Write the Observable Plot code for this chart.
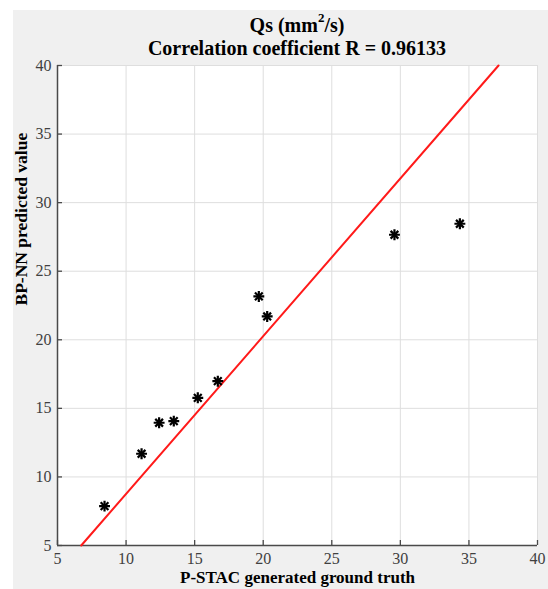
<!DOCTYPE html>
<html><head><meta charset="utf-8">
<script src="https://cdn.jsdelivr.net/npm/d3@7"></script>
<script src="https://cdn.jsdelivr.net/npm/@observablehq/plot@0.6"></script>
<style>
body{margin:0;background:#fff;}
#wrap{position:relative;width:548px;height:589px;overflow:hidden;font-family:"Liberation Serif",serif;}
#bg{position:absolute;left:13px;top:10px;width:535px;height:579px;background:#f0f0f0;}
#chart{position:absolute;left:0;top:0;}
.title{position:absolute;left:0;width:594px;text-align:center;font-weight:bold;font-size:20px;line-height:23px;color:#000;white-space:nowrap;}
.title sup{font-size:13px;line-height:0;position:relative;top:-2px;}
</style></head>
<body><div id="wrap"><div id="bg"></div><div id="chart"></div>
<div class="title" style="top:14px">Qs (mm<sup>2</sup>/s)</div>
<div class="title" style="top:37px">Correlation coefficient R = 0.96133</div>
</div>
<script>
const truthX = [8.43, 11.13, 12.41, 13.48, 15.23, 16.69, 19.68, 20.29, 29.57, 34.34];
const predY  = [7.87, 11.69, 13.95, 14.07, 15.77, 16.98, 23.16, 21.70, 27.66, 28.46];
const fitX = [6.73, 37.16];
const fitY = [5, 40];
const xTicks = [5, 10, 15, 20, 25, 30, 35, 40];
const yTicks = [5, 10, 15, 20, 25, 30, 35, 40];
const xLabel = "P-STAC generated ground truth";
const yLabel = "BP-NN predicted value";

const pts = truthX.map((x, i) => ({x, y: predY[i]}));
const fit = fitX.map((x, i) => ({x, y: fitY[i]}));
const axisColor = "#4a4a4a";

const plot = Plot.plot({
  width: 548, height: 589,
  marginLeft: 57, marginRight: 11, marginTop: 65, marginBottom: 44,
  style: {background: "transparent", fontFamily: "Liberation Serif, serif", fontSize: "16px", color: "#404040", overflow: "visible"},
  x: {domain: [5, 40], ticks: xTicks},
  y: {domain: [5, 40], ticks: yTicks},
  marks: [
    Plot.frame({fill: "white", stroke: null}),
    Plot.gridX(xTicks, {stroke: "#dedede", strokeOpacity: 1, strokeWidth: 1}),
    Plot.gridY(yTicks, {stroke: "#dedede", strokeOpacity: 1, strokeWidth: 1}),
    Plot.axisX(xTicks, {tickSize: 0, tickPadding: 7, fontSize: 16, fill: "#404040", label: null}),
    Plot.axisY(yTicks, {tickSize: 0, tickPadding: 6, fontSize: 16, fill: "#404040", label: null}),
    Plot.tickX(xTicks, {x: d => d, insetTop: 475, stroke: axisColor, strokeWidth: 1.3}),
    Plot.tickY(yTicks, {y: d => d, insetRight: 475, stroke: axisColor, strokeWidth: 1.3}),
    Plot.ruleY([5], {stroke: axisColor, strokeWidth: 1.5}),
    Plot.ruleX([5], {stroke: axisColor, strokeWidth: 1.5}),
    Plot.line(fit, {x: "x", y: "y", stroke: "#ff1a1a", strokeWidth: 2}),
    Plot.dot(pts, {x: "x", y: "y", symbol: "plus", r: 3.6, stroke: "black", strokeWidth: 2.2}),
    Plot.dot(pts, {x: "x", y: "y", symbol: "times", r: 3.6, stroke: "black", strokeWidth: 2.2}),
    Plot.text([xLabel], {text: d => d, frameAnchor: "bottom", dy: 37, fontWeight: "bold", fontSize: 17, fill: "#000"}),
    Plot.text([yLabel], {text: d => d, frameAnchor: "left", dx: -36, rotate: -90, fontWeight: "bold", fontSize: 17.5, fill: "#000"})
  ]
});
document.getElementById("chart").appendChild(plot);
</script>
</body></html>
